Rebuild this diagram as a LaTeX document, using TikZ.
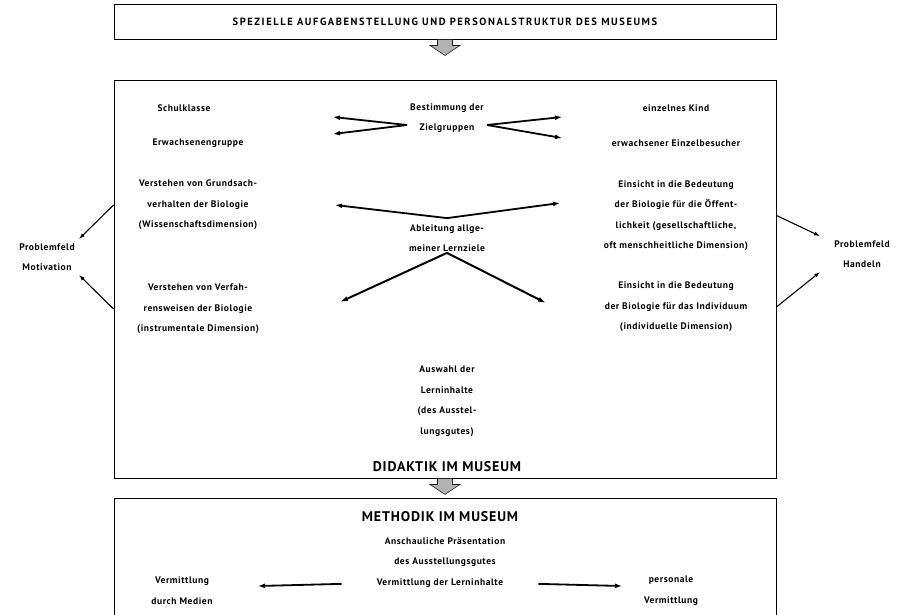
\documentclass[tikz,border=0pt]{standalone}
\usepackage{fontspec}
\setmainfont[LetterSpace=6]{PT Sans}
\usetikzlibrary{arrows.meta,calc}
\tikzset{>=Latex}

\begin{document}
\begin{tikzpicture}[x=1pt,y=-1pt,
    txt/.style={font=\bfseries\fontsize{9.5}{20.5}\selectfont, align=center, inner sep=1pt},
    caps/.style={font=\bfseries\fontsize{14}{16}\selectfont, inner sep=1pt},
    box/.style={draw, line width=0.9pt, inner sep=0pt, minimum width=662pt},
    side/.style={->, line width=1.1pt, -{Latex[length=6pt,width=4pt]}},
    dbl/.style={->, line width=1.8pt, -{Latex[length=7pt,width=5pt]}},
    vee/.style={->, line width=2pt, -{Latex[length=8pt,width=5pt]}},
    blk/.style={fill=gray!60, draw=gray!25!black, line width=0.6pt}]

    \clip (0,0) rectangle (903,614);

    % boxes
    \node[box, minimum height=35pt] (spez) at (445,21.5) {\bfseries\fontsize{10.5}{12}\selectfont\addfontfeature{LetterSpace=15}SPEZIELLE AUFGABENSTELLUNG UND PERSONALSTRUKTUR DES MUSEUMS};
    \node[box, minimum height=398pt] (didaktik) at (445,279) {};
    \node[box, minimum height=160pt] (methodik) at (445,578) {};

    % block arrows between the boxes
    \filldraw[blk] ($(spez.south)+(-7.5,0)$) -- ++(15,0) -- ++(0,6) -- ++(7.5,0)
        -- ($(spez.south)+(0,16)$) -- ++(-15,-10) -- ++(7.5,0) -- cycle;
    \filldraw[blk] ($(didaktik.south)+(-7.5,0)$) -- ++(15,0) -- ++(0,6) -- ++(7.5,0)
        -- ($(didaktik.south)+(0,16)$) -- ++(-15,-10) -- ++(7.5,0) -- cycle;

    % Zielgruppen
    \node[txt] (schul) at (184,108) {Schulklasse};
    \node[txt] (erwg) at (198,143) {Erwachsenengruppe};
    \node[txt] (bestimm) at (447,118) {Bestimmung der\\Zielgruppen};
    \node[txt] (kind) at (676,108) {einzelnes Kind};
    \node[txt] (einzel) at (676,143) {erwachsener Einzelbesucher};

    % Lernziele
    \node[txt] (grund) at (198,205) {Verstehen von Grundsach-\\verhalten der Biologie\\(Wissenschaftsdimension)};
    \node[txt] (oeff) at (676,215.5) {Einsicht in die Bedeutung\\der Biologie f\"ur die \"Offent-\\lichkeit (gesellschaftliche,\\oft menschheitliche Dimension)};
    \node[txt] (ableit) at (447,238) {Ableitung allge-\\meiner Lernziele};
    \node[txt] (verfahr) at (198,309) {Verstehen von Verfah-\\rensweisen der Biologie\\(instrumentale Dimension)};
    \node[txt] (indiv) at (676,307) {Einsicht in die Bedeutung\\der Biologie f\"ur das Individuum\\(individuelle Dimension)};
    \node[txt] (auswahl) at (447,401) {Auswahl der\\Lerninhalte\\(des Ausstel-\\lungsgutes)};
    \node[caps] (didtitle) at (447,467) {DIDAKTIK IM MUSEUM};

    % Problemfelder
    \node[txt, inner sep=4pt] (pm) at (47,257) {Problemfeld\\Motivation};
    \node[txt, inner ysep=4pt, inner xsep=14pt] (ph) at (862,254) {Problemfeld\\Handeln};

    % Methodik
    \node[caps] (methtitle) at (440,517) {METHODIK IM MUSEUM};
    \node[txt] (anschau) at (445,552) {Anschauliche Pr\"asentation\\des Ausstellungsgutes};
    \node[txt] (vlern) at (440,583) {Vermittlung der Lerninhalte};
    \node[txt] (medien) at (182,590.5) {Vermittlung\\durch Medien};
    \node[txt] (personal) at (671,590.5) {personale\\Vermittlung};

    % free arrow ends
    \coordinate (zl1) at (333,117);
    \coordinate (zl2) at (333,134);
    \coordinate (zr1) at (562,117);
    \coordinate (zr2) at (562,138);
    \coordinate (ll) at (335,205);
    \coordinate (lr) at (560,203);
    \coordinate (vl) at (340,302);
    \coordinate (vr) at (546,303);
    \coordinate (ml) at (258,586);
    \coordinate (mr) at (622,586);

    % Bestimmung to Zielgruppen
    \draw[dbl] ($(bestimm.west)+(-2,7)$) -- (zl1);
    \draw[dbl] ($(bestimm.west)+(-2,7)$) -- (zl2);
    \draw[dbl] ($(bestimm.east)+(2,7)$) -- (zr1);
    \draw[dbl] ($(bestimm.east)+(2,7)$) -- (zr2);
    % Ableitung to Lernziele
    \draw[dbl] ($(ableit.north)+(0,-5)$) -- (ll);
    \draw[dbl] ($(ableit.north)+(0,-5)$) -- (lr);
    \draw[vee] (ableit.south) -- (vl);
    \draw[vee] (ableit.south) -- (vr);

    % box to Problemfelder
    \draw[side] (didaktik.west |- grund) -- (pm.north east);
    \draw[side] (didaktik.west |- verfahr) -- (pm.south east);
    \draw[side] (didaktik.east |- oeff) -- (ph.north west);
    \draw[side] (didaktik.east |- indiv) -- (ph.south west);

    % Vermittlung
    \draw[dbl, shorten <=34pt] (vlern.west) -- (ml);
    \draw[dbl, shorten <=34pt] (vlern.east) -- (mr);
\end{tikzpicture}
\end{document}
